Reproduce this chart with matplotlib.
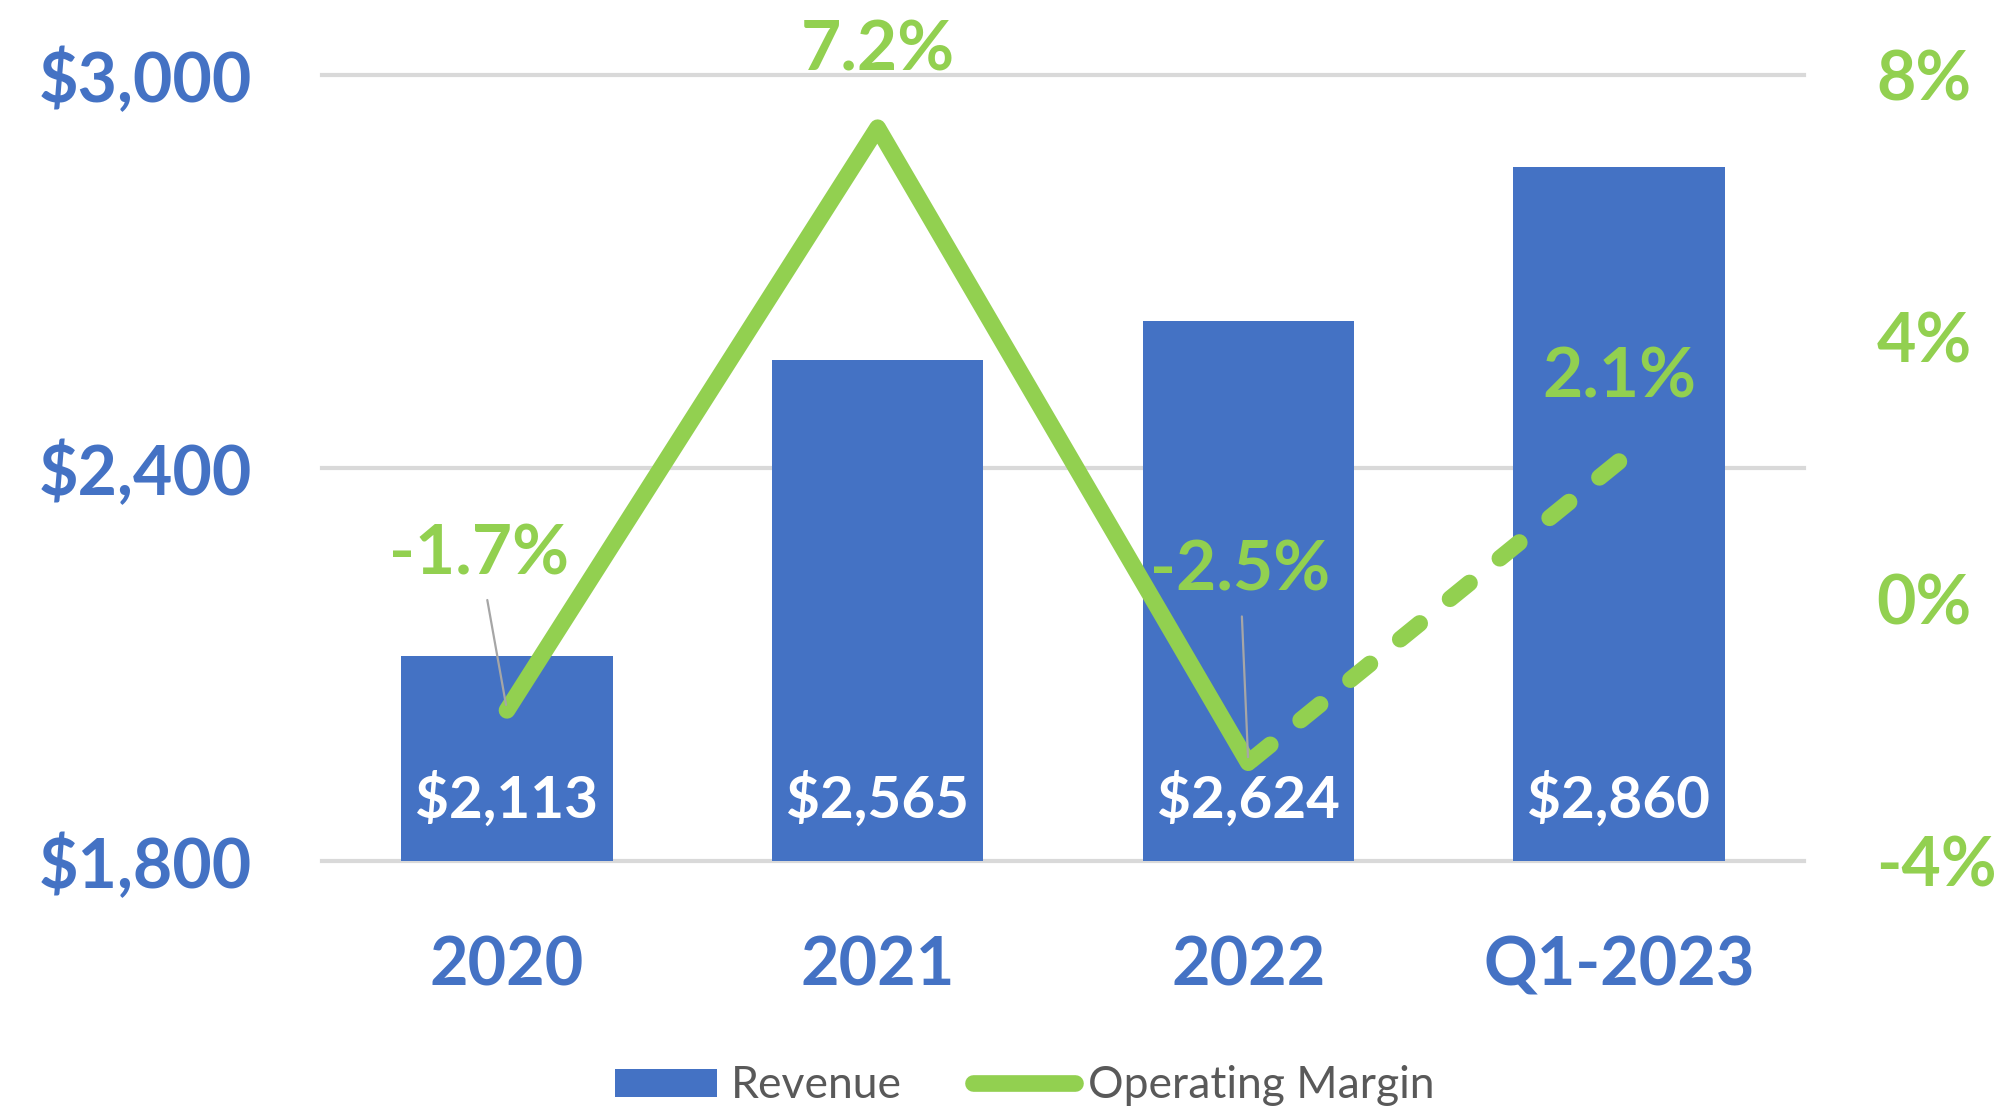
import matplotlib
matplotlib.use('Agg')
import matplotlib.pyplot as plt
from matplotlib import font_manager
from matplotlib.patches import Patch
from matplotlib.lines import Line2D

# dados do gráfico
periodos = ['2020', '2021', '2022', 'Q1-2023']
receita = [2113, 2565, 2624, 2860]
margem = [-1.7, 7.2, -2.5, 2.1]
rotulos_receita = ['$2,113', '$2,565', '$2,624', '$2,860']
rotulos_margem = ['-1.7%', '7.2%', '-2.5%', '2.1%']
ticks_esq = [1800, 2400, 3000]
ticks_dir = [-4, 0, 4, 8]

azul = '#4472C4'
verde = '#92D050'
cinza = '#595959'

# escolhe a primeira fonte disponível
nomes = {f.name for f in font_manager.fontManager.ttflist}
fonte = 'DejaVu Sans'
for nome in ['Liberation Sans Narrow', 'Lato', 'Open Sans']:
    if nome in nomes:
        fonte = nome
        break
plt.rcParams['font.family'] = [fonte, 'DejaVu Sans']

fig = plt.figure(figsize=(19.98, 11.08), dpi=100)
ax = fig.add_axes([0.161, 0.223, 0.742, 0.709])
x = list(range(len(periodos)))

ax.bar(x, receita, width=0.57, color=azul, zorder=2)
ax.set_ylim(1800, 3000)
ax.set_xlim(-0.5, 3.5)
for t in ticks_esq:
    ax.axhline(t, color='#D9D9D9', lw=3, zorder=1, clip_on=False)
ax.set_yticks(ticks_esq)
ax.set_yticklabels(['$' + format(t, ',') for t in ticks_esq])
ax.set_xticks(x)
ax.set_xticklabels(periodos)
ax.tick_params(axis='y', length=0, pad=50, labelsize=49, labelcolor=azul)
ax.tick_params(axis='x', length=0, pad=54, labelsize=48, labelcolor=azul)
for lab in ax.get_xticklabels() + ax.get_yticklabels():
    lab.set_fontweight('bold')
for s in ax.spines.values():
    s.set_visible(False)

# valores das barras
for i in x:
    ax.annotate(rotulos_receita[i], xy=(i, 1800), xytext=(0, 44),
                textcoords='offset points', ha='center', va='center',
                color='white', fontsize=42, fontweight='bold', zorder=3)

ax2 = ax.twinx()
ax2.set_ylim(-4, 8)
ax2.set_yticks(ticks_dir)
ax2.set_yticklabels([str(t) + '%' for t in ticks_dir])
ax2.tick_params(axis='y', length=0, pad=52, labelsize=49, labelcolor=verde)
for lab in ax2.get_yticklabels():
    lab.set_fontweight('bold')
for s in ax2.spines.values():
    s.set_visible(False)

ax2.plot(x[:3], margem[:3], color=verde, lw=12, solid_joinstyle='round',
         solid_capstyle='round', zorder=3)
# tracejado desenhado ao contrário para terminar num traço em Q1
ax2.plot(x[2:][::-1], margem[2:][::-1], color=verde, lw=12, dashes=(1.5, 2.35),
         dash_capstyle='round', zorder=3)

# rótulos da margem
desloc = [(-20, 112), (0, 55), (-6, 138), (0, 60)]
lider = [True, False, True, False]
for i in x:
    props = None
    if lider[i]:
        props = dict(arrowstyle='-', color='#A6A6A6', lw=1.6, shrinkA=8, shrinkB=4)
    ax2.annotate(rotulos_margem[i], xy=(i, margem[i]), xytext=desloc[i],
                 textcoords='offset points', ha='center', va='center',
                 color=verde, fontsize=50, fontweight='bold',
                 arrowprops=props, zorder=4)

handles = [Patch(facecolor=azul),
           Line2D([], [], color=verde, lw=12, solid_capstyle='round')]
leg = fig.legend(handles, ['Revenue', 'Operating Margin'], loc='center',
                 bbox_to_anchor=(0.513, 0.02), ncol=2, frameon=False,
                 fontsize=32, handlelength=2.3, handleheight=0.6,
                 handletextpad=0.3, columnspacing=1.6)
for t in leg.get_texts():
    t.set_color(cinza)

fig.savefig('out.png', dpi=100)
